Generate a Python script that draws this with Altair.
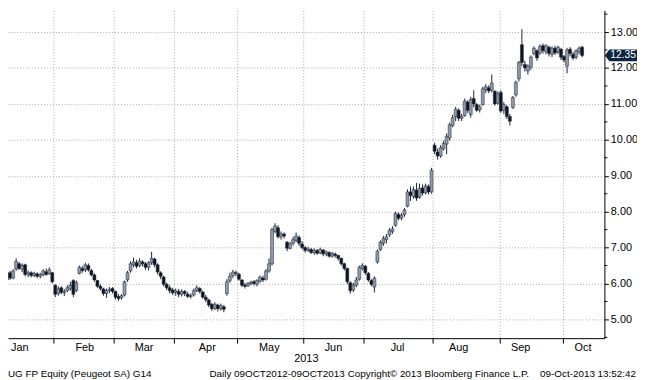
import altair as alt
import pandas as pd

# ---- data, one candle per trading day, 10 Jan 2013 .. 9 Oct 2013
opens = [6.10, 6.30, 6.15, 6.40, 6.55, 6.40, 6.52, 6.25, 6.30, 6.22,
         6.27, 6.20, 6.24, 6.33, 6.28, 6.30, 5.95, 5.72, 5.88, 5.74,
         5.80, 5.85, 6.08, 5.80, 6.28, 6.42, 6.38, 6.50, 6.36, 6.24,
         6.08, 5.92, 5.85, 5.72, 5.80, 5.86, 5.78, 5.64, 5.60, 5.68,
         6.10, 6.35, 6.52, 6.58, 6.50, 6.60, 6.55, 6.45, 6.58, 6.68,
         6.52, 6.30, 6.18, 5.98, 5.88, 5.82, 5.75, 5.78, 5.70, 5.78,
         5.70, 5.64, 5.68, 5.80, 5.86, 5.76, 5.62, 5.54, 5.42, 5.30,
         5.40, 5.30, 5.35, 5.72, 6.08, 6.22, 6.30, 6.26, 6.10, 5.96,
         5.94, 6.00, 6.05, 5.98, 6.06, 6.15, 6.12, 6.35, 6.55, 7.45,
         7.55, 7.30, 7.38, 7.15, 6.98, 7.12, 7.20, 7.28, 7.10, 7.00,
         6.92, 6.95, 6.86, 6.92, 6.85, 6.93, 6.82, 6.86, 6.76, 6.82,
         6.78, 6.70, 6.55, 6.42, 6.02, 5.82, 5.95, 6.12, 6.42, 6.48,
         6.28, 6.08, 5.90, 6.60, 6.95, 7.12, 7.22, 7.35, 7.45, 7.62,
         7.92, 7.82, 7.92, 8.15, 8.55, 8.42, 8.60, 8.40, 8.66, 8.52,
         8.70, 8.55, 9.85, 9.66, 9.55, 9.76, 9.88, 10.05, 10.40, 10.65,
         10.82, 10.60, 10.68, 11.05, 10.70, 11.15, 10.98, 10.84, 10.98, 11.40,
         11.45, 11.38, 11.35, 11.02, 11.32, 10.82, 10.92, 10.65, 10.90, 11.25,
         11.70, 12.65, 12.10, 11.92, 12.02, 12.40, 12.48, 12.42, 12.62, 12.45,
         12.58, 12.38, 12.55, 12.45, 12.52, 12.32, 12.05, 12.52, 12.38, 12.30,
         12.45, 12.58]
closes = [6.30, 6.15, 6.35, 6.62, 6.42, 6.50, 6.25, 6.30, 6.22, 6.28,
          6.20, 6.25, 6.35, 6.25, 6.38, 6.05, 5.70, 5.85, 5.75, 5.78,
          5.88, 5.95, 5.70, 6.02, 6.45, 6.36, 6.52, 6.38, 6.24, 6.10,
          5.92, 5.86, 5.72, 5.80, 5.84, 5.78, 5.62, 5.58, 5.66, 6.05,
          6.30, 6.55, 6.60, 6.48, 6.62, 6.55, 6.45, 6.58, 6.70, 6.52,
          6.32, 6.20, 5.98, 5.88, 5.80, 5.74, 5.80, 5.70, 5.78, 5.72,
          5.64, 5.66, 5.80, 5.88, 5.78, 5.62, 5.55, 5.40, 5.30, 5.42,
          5.30, 5.38, 5.28, 6.05, 6.20, 6.32, 6.28, 6.12, 5.95, 5.92,
          6.00, 6.04, 6.00, 6.08, 6.18, 6.10, 6.35, 6.55, 7.50, 7.60,
          7.30, 7.38, 7.32, 6.98, 7.10, 7.22, 7.32, 7.12, 7.00, 6.92,
          6.96, 6.86, 6.92, 6.84, 6.95, 6.82, 6.88, 6.76, 6.84, 6.78,
          6.70, 6.55, 6.42, 6.05, 5.80, 5.95, 6.10, 6.45, 6.50, 6.30,
          6.10, 5.98, 6.15, 6.90, 7.15, 7.25, 7.30, 7.48, 7.52, 7.95,
          7.82, 7.90, 8.05, 8.55, 8.45, 8.62, 8.38, 8.65, 8.52, 8.72,
          8.55, 9.15, 9.68, 9.55, 9.78, 9.90, 10.10, 10.42, 10.62, 10.85,
          10.60, 10.65, 11.08, 10.82, 11.12, 11.00, 10.82, 10.92, 11.42, 11.48,
          11.36, 11.58, 11.00, 11.28, 10.80, 10.98, 10.65, 10.52, 11.18, 11.60,
          12.15, 12.15, 12.00, 12.05, 12.30, 12.55, 12.28, 12.60, 12.48, 12.62,
          12.40, 12.55, 12.42, 12.58, 12.30, 12.22, 12.50, 12.40, 12.28, 12.48,
          12.55, 12.35]
highs = [6.36, 6.35, 6.40, 6.70, 6.60, 6.56, 6.55, 6.36, 6.34, 6.33,
         6.31, 6.30, 6.40, 6.42, 6.45, 6.32, 5.98, 5.92, 5.92, 5.84,
         5.95, 6.05, 6.12, 6.08, 6.50, 6.48, 6.58, 6.56, 6.40, 6.28,
         6.10, 5.98, 5.88, 5.86, 5.90, 5.90, 5.80, 5.70, 5.70, 6.08,
         6.35, 6.62, 6.72, 6.66, 6.70, 6.65, 6.60, 6.62, 6.88, 6.72,
         6.56, 6.34, 6.22, 6.02, 5.95, 5.88, 5.86, 5.85, 5.84, 5.82,
         5.76, 5.72, 5.86, 5.95, 5.90, 5.80, 5.68, 5.58, 5.46, 5.48,
         5.44, 5.44, 5.40, 6.12, 6.30, 6.38, 6.36, 6.30, 6.12, 6.02,
         6.04, 6.08, 6.10, 6.12, 6.22, 6.22, 6.40, 6.70, 7.55, 7.68,
         7.62, 7.45, 7.42, 7.18, 7.16, 7.30, 7.42, 7.34, 7.18, 7.04,
         7.02, 6.99, 6.98, 6.96, 7.00, 6.96, 6.92, 6.90, 6.88, 6.86,
         6.80, 6.72, 6.58, 6.44, 6.06, 6.02, 6.18, 6.50, 6.56, 6.52,
         6.32, 6.12, 6.20, 6.95, 7.20, 7.32, 7.38, 7.55, 7.60, 8.00,
         7.98, 7.96, 8.10, 8.62, 8.70, 8.70, 8.80, 8.78, 8.76, 8.78,
         8.76, 9.22, 9.92, 9.76, 9.85, 9.98, 10.18, 10.48, 10.70, 10.92,
         10.88, 10.72, 11.15, 11.10, 11.20, 11.38, 11.02, 10.98, 11.48, 11.55,
         11.52, 11.82, 11.38, 11.35, 11.38, 11.05, 10.96, 10.72, 11.22, 11.65,
         12.20, 13.08, 12.20, 12.10, 12.35, 12.60, 12.52, 12.66, 12.68, 12.66,
         12.62, 12.60, 12.62, 12.62, 12.56, 12.36, 12.56, 12.58, 12.45, 12.52,
         12.60, 12.62]
lows = [6.05, 6.10, 6.12, 6.35, 6.38, 6.32, 6.20, 6.18, 6.17, 6.18,
        6.15, 6.14, 6.20, 6.22, 6.24, 6.00, 5.62, 5.66, 5.70, 5.65,
        5.76, 5.80, 5.62, 5.76, 6.25, 6.30, 6.32, 6.33, 6.20, 6.05,
        5.88, 5.80, 5.66, 5.60, 5.74, 5.72, 5.55, 5.52, 5.55, 5.64,
        6.05, 6.30, 6.45, 6.42, 6.45, 6.47, 6.38, 6.36, 6.52, 6.45,
        6.25, 6.12, 5.92, 5.82, 5.72, 5.68, 5.66, 5.62, 5.64, 5.65,
        5.60, 5.58, 5.64, 5.76, 5.72, 5.58, 5.48, 5.34, 5.24, 5.26,
        5.22, 5.24, 5.20, 5.66, 6.02, 6.15, 6.20, 6.08, 5.90, 5.86,
        5.90, 5.95, 5.94, 5.92, 6.02, 6.04, 6.08, 6.30, 6.50, 7.40,
        7.25, 7.22, 7.25, 6.90, 6.95, 7.06, 7.15, 7.05, 6.95, 6.86,
        6.88, 6.82, 6.80, 6.80, 6.82, 6.76, 6.76, 6.72, 6.72, 6.72,
        6.64, 6.50, 6.36, 5.98, 5.72, 5.76, 5.90, 6.08, 6.36, 6.24,
        6.05, 5.92, 5.75, 6.55, 6.90, 7.05, 7.12, 7.30, 7.38, 7.58,
        7.76, 7.76, 7.86, 8.12, 8.30, 8.36, 8.30, 8.36, 8.45, 8.48,
        8.48, 8.50, 9.60, 9.45, 9.50, 9.70, 9.60, 9.98, 10.35, 10.52,
        10.52, 10.52, 10.64, 10.75, 10.62, 10.90, 10.78, 10.76, 10.95, 11.30,
        11.30, 11.32, 10.95, 10.98, 10.75, 10.72, 10.58, 10.40, 10.86, 11.20,
        11.62, 12.05, 11.90, 11.82, 11.95, 12.35, 12.20, 12.36, 12.40, 12.38,
        12.32, 12.30, 12.36, 12.38, 12.22, 12.15, 11.85, 12.32, 12.22, 12.24,
        12.38, 12.30]

month_names = ["Jan", "Feb", "Mar", "Apr", "May", "Jun", "Jul", "Aug", "Sep", "Oct"]
month_label_pos = [4.2, 25.8, 45.5, 66.5, 87.1, 108.4, 129.7, 150.0, 170.6, 191.3]
month_bounds = [15.5, 35.5, 55.5, 76.5, 98.5, 118.5, 141.5, 163.5, 184.5]
year_label = "2013"
year_pos = 99.4
y_ticks = [5, 6, 7, 8, 9, 10, 11, 12, 13]
y_minor = [4.5, 5.5, 6.5, 7.5, 8.5, 9.5, 10.5, 11.5, 12.5, 13.5]
last_price = 12.35
footer_texts = ["UG FP Equity (Peugeot SA) G14", "Daily 09OCT2012-09OCT2013",
                "Copyright\u00a9 2013 Bloomberg Finance L.P.", "09-Oct-2013 13:52:42"]

# ---- build
df = pd.DataFrame({"i": list(range(len(closes))), "open": opens, "close": closes,
                   "high": highs, "low": lows})
df["dir"] = ["up" if c >= o else "down" for o, c in zip(opens, closes)]

W, H = 604, 332
FONT = "Liberation Sans"
xs = alt.Scale(domain=[1.935, 196.77], nice=False, zero=False)
ys = alt.Scale(domain=[4.478, 13.605], nice=False, zero=False)

base = alt.Chart(df)
wick = base.mark_rule(color="#1c2533", strokeWidth=1, clip=True).encode(
    x=alt.X("i:Q", scale=xs, title=None,
            axis=alt.Axis(values=month_bounds, labels=False, title=None, grid=True,
                          gridDash=[1, 2], gridColor="#a8a8a8", gridWidth=1,
                          tickSize=5, tickColor="black", domainColor="black",
                          domainWidth=1)),
    y=alt.Y("low:Q", scale=ys, title=None,
            axis=alt.Axis(orient="right", values=y_ticks, format=".2f", title=None,
                          grid=True, gridDash=[1, 2], gridColor="#a8a8a8", gridWidth=1,
                          tickSize=4, tickColor="black", domainColor="black",
                          domainWidth=1, labelPadding=2, labelFontSize=11,
                          labelFont=FONT, labelColor="black")),
    y2="high:Q",
)
body = base.mark_bar(size=3, clip=True, stroke="#1c2533", strokeWidth=0.5).encode(
    x=alt.X("i:Q", scale=xs, title=None),
    y=alt.Y("open:Q", scale=ys, title=None),
    y2="close:Q",
    color=alt.Color("dir:N", scale=alt.Scale(domain=["up", "down"],
                                             range=["#8d9aab", "#0e1621"]), legend=None),
)

minor = alt.Chart(pd.DataFrame({"v": y_minor})).mark_rule(color="black", strokeWidth=1).encode(
    y=alt.Y("v:Q", scale=ys, title=None), x=alt.value(W), x2=alt.value(W + 3))

flag_df = pd.DataFrame({"v": [last_price], "t": [f"{last_price:.2f}"]})
flag = alt.Chart(flag_df).mark_point(
    shape="M-1,0L-0.72,-0.36L1,-0.36L1,0.36L-0.72,0.36Z", filled=True,
    fill="#0b2440", size=1100, opacity=1, strokeWidth=0).encode(
    y=alt.Y("v:Q", scale=ys, title=None), x=alt.value(W + 17))
flag_txt = alt.Chart(flag_df).mark_text(color="white", fontSize=10.5, font=FONT,
                                        align="center", baseline="middle").encode(
    y=alt.Y("v:Q", scale=ys, title=None), x=alt.value(W + 19), text="t:N")

months = alt.Chart(pd.DataFrame({"m": month_names, "p": month_label_pos})).mark_text(
    fontSize=11, font=FONT, color="black", baseline="middle").encode(
    x=alt.X("p:Q", scale=xs, title=None), y=alt.value(H + 10), text="m:N")
year = alt.Chart(pd.DataFrame({"t": [year_label], "p": [year_pos]})).mark_text(
    fontSize=11, font=FONT, color="black", baseline="middle").encode(
    x=alt.X("p:Q", scale=xs, title=None), y=alt.value(H + 21), text="t:N")

foot_df = pd.DataFrame({"t": footer_texts[:3], "px": [0, 204, 344]})
foot_l = alt.Chart(foot_df).mark_text(
    fontSize=10, font=FONT, color="black", baseline="middle", align="left").encode(
    x=alt.X("px:Q", scale=None), y=alt.value(H + 36), text="t:N")
foot_r = alt.Chart(pd.DataFrame({"t": footer_texts[3:], "px": [636]})).mark_text(
    fontSize=10, font=FONT, color="black", baseline="middle", align="right").encode(
    x=alt.X("px:Q", scale=None), y=alt.value(H + 36), text="t:N")

chart = alt.layer(wick, body, minor, flag, flag_txt, months, year, foot_l, foot_r).properties(
    width=W, height=H,
    autosize=alt.AutoSizeParams(type="none"),
    padding={"left": 0, "top": 0, "right": 33, "bottom": 40},
    background="white",
).configure_view(stroke=None)

chart.save("out.html", embed_options={"renderer": "svg", "actions": False})
